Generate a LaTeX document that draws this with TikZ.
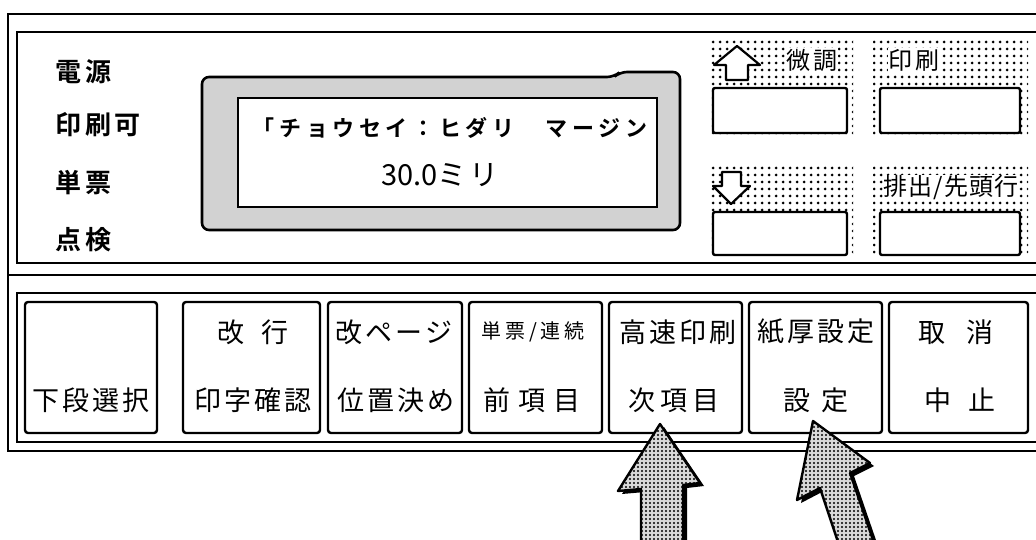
\documentclass[tikz,border=0pt]{standalone}
\usepackage{fontspec}
\setmainfont{Noto Sans CJK JP}
\newfontfamily\jpb{Noto Sans CJK JP Bold}
\newcommand\lsp[2]{{\addfontfeature{LetterSpace=#1}#2}}
\newcommand\dotfield[4]{%
  \foreach \xx in {#1,...,#2} {\foreach \yy in {#3,...,#4} {\fill (\xx,\yy) circle (1.5);}}}
\tikzset{
  frame/.style={line width=2.4pt},
  keybox/.style={line width=2.4pt, rounded corners=3pt},
  winbox/.style={fill=white, draw, line width=2.4pt, rounded corners=2pt},
  lamp/.style={anchor=west, inner sep=0pt, font=\jpb\fontsize{26}{26}\selectfont},
  klab/.style={inner sep=0pt, font=\fontsize{27}{27}\selectfont},
  rlab/.style={inner sep=0pt, font=\fontsize{24}{24}\selectfont},
  bigarrow/.style={line width=2.4pt, line join=round},
}
\begin{document}
\begin{tikzpicture}[x=1pt,y=-1pt]
\useasboundingbox (0,0) rectangle (1036,540);
\clip (0,0) rectangle (1036,540);
\fill[white] (0,0) rectangle (1036,540);
% outer frames
\draw[frame] (1045,14) -- (8,14) -- (8,451) -- (1045,451);
\draw[frame] (8,275) -- (1045,275);
\draw[frame] (1045,32) -- (17,32) -- (17,263) -- (1045,263);
\draw[frame] (1045,293) -- (17,293) -- (17,442) -- (1045,442);
% lamp labels
\node[lamp] (l1) at (55,72) {\lsp{15}{電源}};
\node[lamp] (l2) at (55,125) {\lsp{15}{印刷可}};
\node[lamp] (l3) at (55,183) {\lsp{15}{単票}};
\node[lamp] (l4) at (55,240) {\lsp{15}{点検}};
% display
\draw[line width=2.6pt, fill=gray!35, rounded corners=7pt] (202,230) -- (202,77) -- (614,77) -- (620,72) -- (680,72) -- (680,230) -- cycle;
\draw[line width=2.4pt, fill=white] (238,98) rectangle (657,207);
\node[inner sep=0pt, font=\jpb\fontsize{22}{22}\selectfont] (d1) at (450,128) {\lsp{21}{「チョウセイ：ヒダリ　マージン}};
\node[inner sep=0pt, font=\fontsize{29}{29}\selectfont] (d2) at (440,175) {30.0\lsp{10}{ミリ}};
% right keys (dotted areas)
\begin{scope}
\clip (708,37) rectangle (853,138) (873,37) rectangle (1028,138) (708,163) rectangle (853,257) (873,163) rectangle (1028,257);
\dotfield{706,713}{1030}{35,42}{260}
\end{scope}
\node[winbox, minimum width=134pt, minimum height=45pt] (w1) at (780,110.5) {};
\node[winbox, minimum width=140pt, minimum height=45pt] (w2) at (950,110.5) {};
\node[winbox, minimum width=134pt, minimum height=43pt] (w3) at (780,233.5) {};
\node[winbox, minimum width=140pt, minimum height=43pt] (w4) at (950,233.5) {};
\draw[fill=white, line width=2.2pt, line join=round] (737,46) -- (760,65) -- (748,65) -- (748,80) -- (726,80) -- (726,65) -- (714,65) -- cycle;
\draw[fill=white, line width=2.2pt, line join=round] (731,204) -- (750,186) -- (741,186) -- (741,172) -- (722,172) -- (722,186) -- (713,186) -- cycle;
\node[rlab, fill=white, inner sep=1pt] (t1) at (812,60) {\lsp{10}{微調}};
\node[rlab, fill=white, inner sep=1pt] (t2) at (914,60) {\lsp{10}{印刷}};
\node[rlab, fill=white, inner sep=1pt] (t4) at (951,188) {\lsp{4}{排出/先頭行}};
% bottom keys
\draw[keybox] (25,302) rectangle (157,433);
\draw[keybox] (183,302) rectangle (320,433);
\draw[keybox] (328,302) rectangle (462,433);
\draw[keybox] (469,302) rectangle (602,433);
\draw[keybox] (609,302) rectangle (742,433);
\draw[keybox] (749,302) rectangle (882,433);
\draw[keybox] (889,302) rectangle (1028,433);
\node[klab] (k1b) at (91,400) {\lsp{12}{下段選択}};
\node[klab] (k2a) at (253,332) {\lsp{65}{改行}};
\node[klab] (k2b) at (253,400) {\lsp{12}{印字確認}};
\node[klab] (k3a) at (394,332) {\lsp{12}{改ページ}};
\node[klab] (k3b) at (396,400) {\lsp{12}{位置決め}};
\node[inner sep=0pt, font=\fontsize{20}{20}\selectfont] (k4a) at (533,332) {\lsp{18}{単票/連続}};
\node[klab] (k4b) at (532,400) {\lsp{30}{前項目}};
\node[klab] (k5a) at (678,332) {\lsp{10}{高速印刷}};
\node[klab] (k5b) at (674,400) {\lsp{18}{次項目}};
\node[klab] (k6a) at (816,332) {\lsp{10}{紙厚設定}};
\node[klab] (k6b) at (816,400) {\lsp{42}{設定}};
\node[klab] (k7a) at (956,332) {\lsp{75}{取消}};
\node[klab] (k7b) at (960,400) {\lsp{60}{中止}};
% pointing arrows
\def\arrA{(660,424) -- (700,483) -- (683,485) -- (683,548) -- (641,548) -- (641,489) -- (618,491) -- cycle}
\def\arrB{(813,421) -- (870,463) -- (850,473) -- (873,540) -- (842,554) -- (820,488) -- (797,500) -- cycle}
\begin{scope}[shift={(4,3)}]
\fill[black] \arrA;
\fill[black] \arrB;
\end{scope}
\begin{scope}
\clip \arrA;
\fill[gray!30] (610,415) rectangle (710,545);
\foreach \xx in {610,614,...,710} {\foreach \yy in {415,419,...,545} {\fill[black] (\xx,\yy) circle (1.2);}}
\end{scope}
\draw[bigarrow] \arrA;
\begin{scope}
\clip \arrB;
\fill[gray!30] (790,415) rectangle (880,545);
\foreach \xx in {790,794,...,880} {\foreach \yy in {415,419,...,545} {\fill[black] (\xx,\yy) circle (1.2);}}
\end{scope}
\draw[bigarrow] \arrB;
\end{tikzpicture}
\end{document}
